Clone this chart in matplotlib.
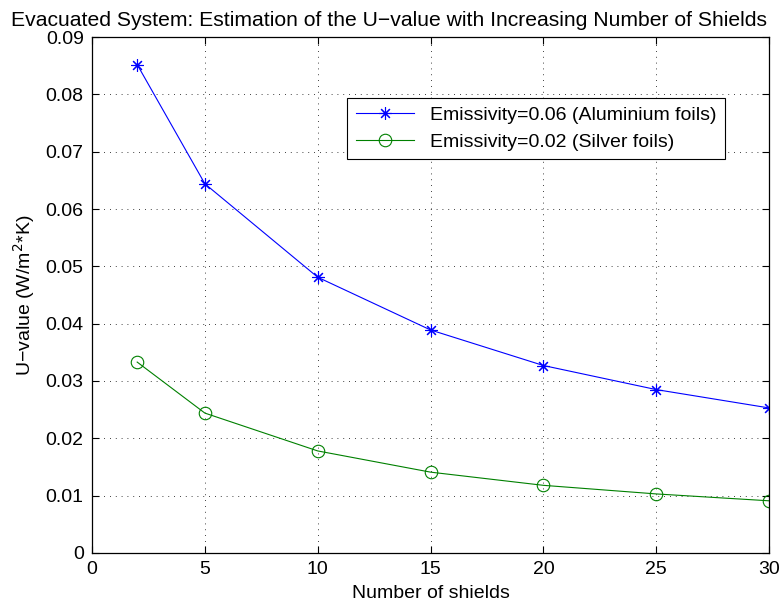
import matplotlib.pyplot as plt

plt.rcParams['font.family'] = ['Liberation Sans', 'DejaVu Sans']
plt.rcParams['font.size'] = 14

shields = [2, 5, 10, 15, 20, 25, 30]
u_alu = [0.0852, 0.0644, 0.0481, 0.0389, 0.0327, 0.0285, 0.0253]
u_silver = [0.0333, 0.0244, 0.0178, 0.0141, 0.0118, 0.0103, 0.0091]

fig = plt.figure(figsize=(7.8, 6.07), dpi=100)
ax = fig.add_axes([0.118, 0.089, 0.868, 0.850])

ax.plot(shields, u_alu, color='blue', marker=(8, 2, 0), markersize=9, lw=0.8,
        markeredgewidth=0.8, label='Emissivity=0.06 (Aluminium foils)')
ax.plot(shields, u_silver, color='#008000', marker='o', markersize=9, lw=0.8,
        markeredgewidth=0.8, markerfacecolor='none',
        label='Emissivity=0.02 (Silver foils)')

ax.set_xlim(0, 30)
ax.set_ylim(0, 0.09)
ax.set_xticks(range(0, 31, 5))
ax.set_yticks([i / 100 for i in range(10)])
ax.set_yticklabels(['0'] + ['%.2f' % (i / 100) for i in range(1, 10)])
ax.tick_params(direction='in', top=True, right=True, length=5, pad=6)
ax.grid(True, color='black', linestyle=(0, (1, 6)), linewidth=0.6)
for s in ax.spines.values():
    s.set_linewidth(0.9)

ax.set_xlabel('Number of shields', labelpad=5)
ax.set_ylabel('U\u2212value (W/m$^2$*K)', labelpad=6)
# title sits left of the axes centre in the reference
fig.text(389 / 780, 1 - 20 / 607,
         'Evacuated System: Estimation of the U\u2212value with Increasing Number of Shields',
         fontsize=15.2, ha='center', va='center')

leg = ax.legend(loc='upper right', bbox_to_anchor=(0.935, 0.882), fancybox=False,
                edgecolor='black', framealpha=1, handlelength=3, borderpad=0.45,
                labelspacing=0.45, borderaxespad=0)
leg.get_frame().set_linewidth(0.8)

fig.savefig('out.png', dpi=100)
